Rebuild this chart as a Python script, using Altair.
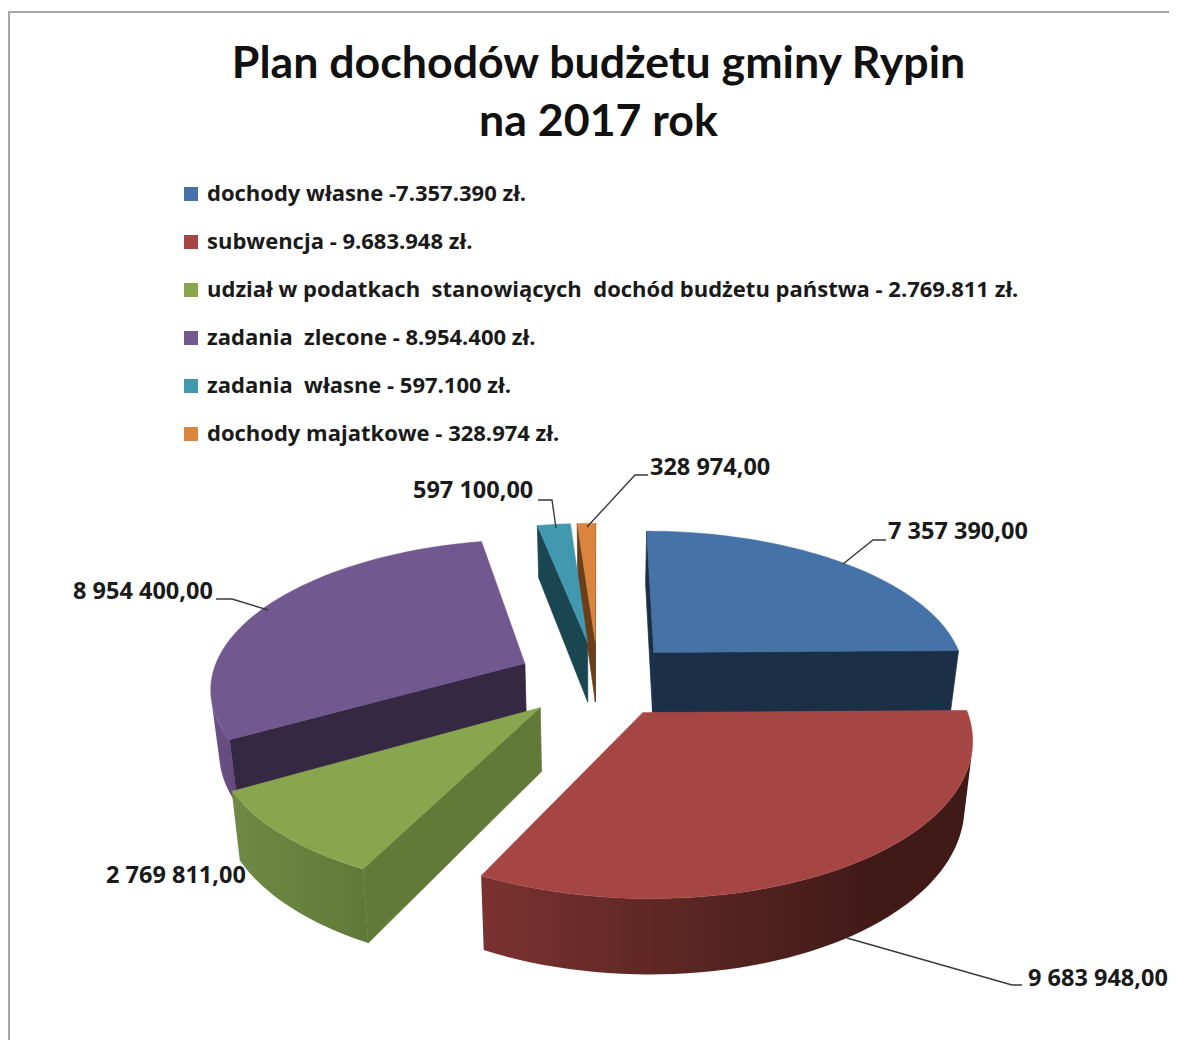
import math
import altair as alt

TITLE = ["Plan dochodów budżetu gminy Rypin", "na 2017 rok"]
LEGEND = [
    "dochody własne -7.357.390 zł.",
    "subwencja - 9.683.948 zł.",
    "udział w podatkach\u00a0 stanowiących\u00a0 dochód budżetu państwa - 2.769.811 zł.",
    "zadania\u00a0 zlecone - 8.954.400 zł.",
    "zadania\u00a0 własne - 597.100 zł.",
    "dochody majatkowe - 328.974 zł.",
]
VALUES = [7357390, 9683948, 2769811, 8954400, 597100, 328974]
VALUE_TEXT = ["7 357 390,00", "9 683 948,00", "2 769 811,00", "8 954 400,00", "597 100,00", "328 974,00"]
COLORS = ["#4572a7", "#a64644", "#89a54e", "#71588f", "#4198af", "#db843d"]
DARK = ["#1b2f47", "#42201c", "#627a38", "#352843", "#1a4651", "#6a3e18"]
WALL_GRADIENT = {
    1: [("#7a3230", 0.0), ("#5c2623", 0.4), ("#401a17", 0.8), ("#401a17", 1.0)],
    2: [("#6f8a44", 0.0), ("#5f7a38", 1.0)],
    3: [("#6b5087", 0.0), ("#634a7c", 1.0)],
}

# page-pixel layout of labels and leaders (not data)
LABEL_X = [888, 1028, 106, 73, 413, 650]
LABEL_Y = [532, 979, 876, 592, 491, 468]
LEADERS = [
    [(843, 564), (873, 540), (886, 540)],
    [(847, 938), (1012, 985), (1022, 985)],
    [],
    [(216, 599), (232, 599), (268, 610)],
    [(538, 500), (552, 500), (556, 528)],
    [(648, 475), (635, 475), (587, 527)],
]

# projection of the tilted, exploded pie
CX, CY, A, B, P, EXPLODE, DEPTH, SHRINK = 598, 679, 314, 147, 0.15, 0.26, 62, 0.978
PAGE = 8


def project(theta, r, mid):
    X = r * math.sin(theta) + EXPLODE * math.sin(mid)
    Y = r * math.cos(theta) + EXPLODE * math.cos(mid)
    s = 1 / (1 + P * Y)
    top = (CX + A * X * s, CY - B * Y * s)
    bot = (CX + (top[0] - CX) * SHRINK, top[1] + DEPTH * s)
    return top, bot


def area(q):
    return sum(q[i][0] * q[(i + 1) % len(q)][1] - q[(i + 1) % len(q)][0] * q[i][1] for i in range(len(q)))


def feature(pts, **props):
    ring = [[round(x, 2), round(y, 2)] for x, y in pts]
    ring.append(ring[0])
    return {"type": "Feature", "geometry": {"type": "Polygon", "coordinates": [ring]}, "properties": props}


total = sum(VALUES)
walls, tops, curved = [], [], []
start = 0.0
slices = []
for i, v in enumerate(VALUES):
    sweep = v / total * 2 * math.pi
    slices.append((i, start, start + sweep))
    start += sweep

for i, t0, t1 in [slices[k] for k in (3, 2, 4, 5, 0, 1)]:
    mid = (t0 + t1) / 2
    n = max(3, int((t1 - t0) / math.radians(2)))
    angles = [t0 + (t1 - t0) * k / n for k in range(n + 1)]
    apex_t, apex_b = project(0, 0, mid)
    rim = [project(a, 1, mid) for a in angles]
    q = [apex_t, rim[-1][0], rim[-1][1], apex_b]
    if area(q) > 0:
        walls.append(feature(q, fill=DARK[i]))
    q = [apex_t, rim[0][0], rim[0][1], apex_b]
    if area(q) < 0:
        walls.append(feature(q, fill=DARK[i]))
    visible = [k for k in range(n) if area([rim[k][0], rim[k + 1][0], rim[k + 1][1], rim[k][1]]) < 0]
    if visible and i in WALL_GRADIENT:
        idx = list(range(visible[0], visible[-1] + 2))
        curved.append((i, feature([rim[k][0] for k in idx] + [rim[k][1] for k in reversed(idx)])))
    tops.append(feature([apex_t] + [p[0] for p in rim], fill=COLORS[i], name=LEGEND[i]))

leader_feats = [
    {"type": "Feature", "geometry": {"type": "LineString", "coordinates": [list(p) for p in pts]}, "properties": {}}
    for pts in LEADERS if pts
]
frame = [{"type": "Feature", "geometry": {"type": "LineString",
          "coordinates": [[1200, 12], [9, 12], [9, 1060]]}, "properties": {}}]

proj = dict(type="identity", scale=1, translate=[-PAGE, -PAGE])

frame_layer = alt.Chart(alt.Data(values=frame)).mark_geoshape(
    filled=False, stroke="#a6a6a6", strokeWidth=2).project(**proj)

wall_layer = alt.Chart(alt.Data(values=walls)).mark_geoshape(strokeWidth=0.7).encode(
    fill=alt.Fill("properties.fill:N", scale=None),
    stroke=alt.Stroke("properties.fill:N", scale=None),
).project(**proj)

curved_layers = []
for i, f in curved:
    stops = [alt.GradientStop(color=c, offset=o) for c, o in WALL_GRADIENT[i]]
    grad = alt.LinearGradient(gradient="linear", stops=stops, x1=0, x2=1, y1=0, y2=0)
    curved_layers.append(
        alt.Chart(alt.Data(values=[f])).mark_geoshape(fill=grad, strokeWidth=0).project(**proj)
    )

top_layer = alt.Chart(alt.Data(values=tops)).mark_geoshape(strokeWidth=0.4).encode(
    fill=alt.Fill(
        "properties.name:N",
        scale=alt.Scale(domain=LEGEND, range=COLORS),
        sort=None,
        legend=alt.Legend(
            title=None, orient="none", legendX=172, legendY=175, symbolType="square",
            symbolSize=196, symbolStrokeWidth=0, labelFont="Open Sans", labelFontWeight="bold",
            labelFontSize=22, labelColor="#1a1a1a", labelLimit=1000, labelOffset=5, rowPadding=26,
            padding=0,
        ),
    ),
    stroke=alt.Stroke("properties.name:N", scale=alt.Scale(domain=LEGEND, range=COLORS), legend=None),
).project(**proj)

leader_layer = alt.Chart(alt.Data(values=leader_feats)).mark_geoshape(
    filled=False, stroke="#3a3a3a", strokeWidth=1.4).project(**proj)

label_layer = alt.Chart(alt.Data(values=[
    {"text": t, "px": x - PAGE, "py": y - PAGE} for t, x, y in zip(VALUE_TEXT, LABEL_X, LABEL_Y)
])).mark_text(align="left", baseline="middle", font="Open Sans", fontWeight="bold", fontSize=23.5, color="#1a1a1a").encode(
    x=alt.X("px:Q", scale=None, axis=None),
    y=alt.Y("py:Q", scale=None, axis=None),
    text="text:N",
)

chart = alt.layer(frame_layer, wall_layer, *curved_layers, top_layer, leader_layer, label_layer).properties(
    width=1161, height=1032, padding=0, autosize=alt.AutoSizeParams(type="none"),
    background="white",
    title=alt.TitleParams(
        text=TITLE, anchor="middle", dx=10, offset=-137.5, fontSize=44.7, font="Lato", fontWeight="bold",
        color="#111111", lineHeight=58,
    ),
).configure_view(stroke=None)

chart.save("out.html", embed_options={"renderer": "svg", "actions": False})
